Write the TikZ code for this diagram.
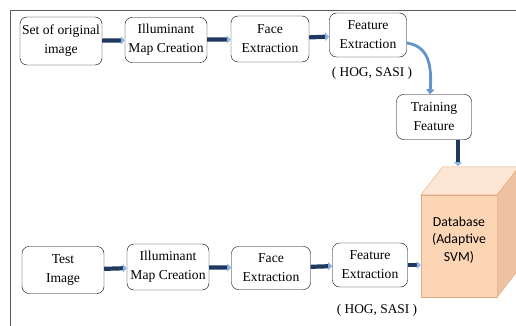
\documentclass[tikz,border=0pt]{standalone}
\usepackage{fontspec}
\setmainfont{Liberation Serif}
\newfontfamily\dbfont{Carlito}
\usetikzlibrary{arrows.meta}
\definecolor{arrownavy}{RGB}{31,56,96}
\definecolor{tipblue}{RGB}{141,179,226}
\definecolor{curveblue}{RGB}{100,146,204}
\definecolor{cubefront}{RGB}{252,213,181}
\definecolor{cubetop}{RGB}{253,230,212}
\definecolor{cuberight}{RGB}{236,194,163}
\definecolor{cubeedge}{RGB}{226,170,130}
\definecolor{framegray}{RGB}{90,90,90}
\tikzset{
  stagebox/.style={draw, rounded corners=7pt, align=center, inner sep=0pt, font=\fontsize{13.6}{19}\selectfont},
  flow/.style={draw=arrownavy, line width=4.2pt, -{Triangle[length=4pt,width=8pt,color=tipblue]}},
  hoglabel/.style={font=\fontsize{13.4}{15}\selectfont}
}
\begin{document}
\begin{tikzpicture}[x=1pt,y=-1pt]
            \useasboundingbox (0,0) rectangle (516,326);
            \draw[framegray, line width=0.8pt] (10,326) -- (10,10) -- (516,10);

            \node (set) at (61,41) [stagebox, minimum width=82pt, minimum height=48pt] {Set of original\\image};
            \node (ill) at (166,40) [stagebox, minimum width=82pt, minimum height=45pt] {Illuminant\\Map Creation};
            \node (face) at (270,39) [stagebox, minimum width=78pt, minimum height=46pt] {Face\\Extraction};
            \node (feat) at (368,35) [stagebox, minimum width=77pt, minimum height=44pt] {Feature\\Extraction};
            \node (hog) at (372,73) [hoglabel] {( HOG, SASI )};
            \node (train) at (434,117) [stagebox, minimum width=75pt, minimum height=45pt] {Training\\Feature};

            \node (test) at (63,270) [stagebox, minimum width=82pt, minimum height=47pt] {Test\\Image};
            \node (till) at (168,267) [stagebox, minimum width=82pt, minimum height=46pt] {Illuminant\\Map Creation};
            \node (tface) at (271,268) [stagebox, minimum width=79pt, minimum height=43pt] {Face\\Extraction};
            \node (tfeat) at (370,265) [stagebox, minimum width=75pt, minimum height=44pt] {Feature\\Extraction};
            \node (thog) at (377,310) [hoglabel] {( HOG, SASI )};

            \node (db) at (459,246) [draw=cubeedge, fill=cubefront, minimum width=76pt, minimum height=102pt, inner sep=0pt] {};
            \draw[draw=cubeedge, fill=cubetop] (db.north west) -- ++(22,-28) -- ++(76,0) -- (db.north east) -- cycle;
            \draw[draw=cubeedge, fill=cuberight] (db.north east) -- ++(22,-28) -- ++(0,102) -- (db.south east) -- cycle;
            \node (dbtext) at (459,240) [align=center, font=\dbfont\fontsize{13.8}{17.5}\selectfont] {Database\\(Adaptive\\SVM)};
            \coordinate (dbtop) at (458,166);

            \draw[flow] (set) -- (ill);
            \draw[flow] (ill) -- (face);
            \draw[flow] (face) -- (feat);
            \draw[curveblue, line width=2.8pt, -{Triangle[length=5pt,width=8pt]}] ([yshift=-8pt]feat.east) .. controls (428,46) and (432,64) .. ([xshift=-4pt]train.north);
            \draw[flow] ([xshift=24pt]train.south) -- (dbtop);

            \draw[flow] (test) -- (till);
            \draw[flow] (till) -- (tface);
            \draw[flow] (tface) -- (tfeat);
            \draw[flow] (tfeat.east) -- (tfeat.east -| db.west);
          \end{tikzpicture}
\end{document}
